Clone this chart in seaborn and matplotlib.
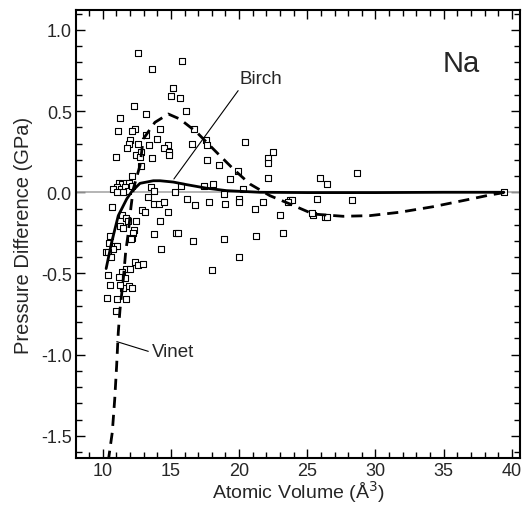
import numpy as np
import pandas as pd
import matplotlib
matplotlib.use("Agg")
import matplotlib.pyplot as plt
from matplotlib.ticker import MultipleLocator
import seaborn as sns

# ---- data ----
vol_pts = [12.55, 15.79, 13.59, 15.17, 14.98, 15.63, 12.31, 16.12, 11.27, 13.17,
           12.40, 12.18, 11.10, 14.20, 16.71, 13.19, 13.98, 12.00, 11.89, 11.78,
           12.62, 13.41, 14.81, 14.49, 14.84, 14.88, 16.52, 17.57, 17.62, 20.42,
           22.51, 22.13, 22.11, 12.44, 12.84, 12.70, 13.59, 10.95, 17.66, 18.52,
           12.77, 19.95, 22.13, 12.18, 19.36, 25.92, 26.45, 28.61,
           11.19, 11.39, 11.71, 11.95, 11.03, 11.34, 11.63, 11.88, 11.47, 10.78,
           12.11, 11.01,
           13.52, 13.78, 15.74, 17.42, 18.10, 15.27, 18.91, 20.30, 13.34, 13.74,
           14.15, 14.49, 16.20, 16.76, 17.79, 19.00, 19.99, 19.99, 21.72, 21.18,
           23.03, 23.74, 23.90, 23.60, 25.68, 28.29, 25.43, 25.38, 26.29, 26.45,
           10.68, 12.86, 13.08, 14.81, 14.20, 11.39, 11.74, 11.88, 11.27, 11.52,
           12.44, 12.31, 12.24, 12.11, 13.76, 15.37, 15.54, 23.22, 21.21, 18.86,
           16.59, 14.27, 10.46, 10.53, 10.90, 11.05, 10.78, 10.21, 10.42, 10.57,
           19.99, 12.07, 12.37, 12.55, 12.97, 11.71, 12.00, 11.41, 18.03, 10.35,
           11.22, 11.61, 10.53, 11.95, 12.15, 11.52, 10.34, 11.07, 11.73, 11.00,
           11.27, 39.42]
dp_pts = [0.86, 0.81, 0.76, 0.64, 0.59, 0.58, 0.53, 0.50, 0.46, 0.48,
          0.39, 0.38, 0.38, 0.39, 0.39, 0.35, 0.33, 0.32, 0.30, 0.27,
          0.30, 0.29, 0.29, 0.27, 0.25, 0.23, 0.30, 0.32, 0.29, 0.31,
          0.25, 0.21, 0.18, 0.23, 0.25, 0.22, 0.21, 0.22, 0.20, 0.17,
          0.16, 0.13, 0.09, 0.10, 0.08, 0.09, 0.05, 0.12,
          0.06, 0.05, 0.06, 0.06, 0.03, 0.02, 0.03, 0.01, 0.00, 0.02,
          0.04, 0.00,
          0.03, 0.01, 0.04, 0.04, 0.05, 0.00, -0.01, 0.02, -0.03, -0.07,
          -0.07, -0.06, -0.04, -0.08, -0.06, -0.07, -0.04, -0.06, -0.06, -0.10,
          -0.14, -0.05, -0.05, -0.06, -0.04, -0.05, -0.14, -0.13, -0.15, -0.15,
          -0.09, -0.11, -0.12, -0.12, -0.18, -0.14, -0.16, -0.18, -0.21, -0.22,
          -0.18, -0.23, -0.25, -0.28, -0.26, -0.25, -0.25, -0.25, -0.27, -0.29,
          -0.30, -0.35, -0.31, -0.27, -0.33, -0.33, -0.35, -0.37, -0.37, -0.40,
          -0.40, -0.29, -0.43, -0.45, -0.44, -0.47, -0.47, -0.49, -0.48, -0.51,
          -0.52, -0.53, -0.57, -0.58, -0.59, -0.59, -0.65, -0.66, -0.66, -0.73,
          -0.57, 0.00]

birch_vol = [10.25, 10.66, 11.14, 11.76, 12.12, 12.73, 13.71, 14.20, 15.17, 16.15,
             17.62, 19.08, 21.52, 25.0, 30.0, 35.0, 39.42]
birch_dp = [-0.47, -0.306, -0.144, -0.041, 0.004, 0.055, 0.071, 0.071, 0.063, 0.047,
            0.025, 0.010, 0.0, -0.002, -0.002, 0.0, 0.0]

vinet_vol = [10.40, 10.70, 10.88, 11.02, 11.14, 11.27, 11.51, 11.68, 11.88, 12.07,
             12.24, 12.73, 12.97, 13.83, 14.81, 15.66, 16.89, 18.35, 19.57, 20.79,
             22.26, 23.72, 25.43, 27.63, 29.58, 31.78, 34.22, 36.67, 38.37, 39.42]
vinet_dp = [-1.66, -1.479, -1.274, -1.068, -0.863, -0.719, -0.534, -0.370, -0.246, -0.092,
            0.020, 0.164, 0.328, 0.431, 0.482, 0.451, 0.370, 0.246, 0.144, 0.051,
            -0.021, -0.072, -0.134, -0.148, -0.144, -0.123, -0.089, -0.047, -0.017, -0.002]

x_ticks = [10, 15, 20, 25, 30, 35, 40]
y_ticks = [-1.5, -1.0, -0.5, 0.0, 0.5, 1.0]

pts = pd.DataFrame({"vol": vol_pts, "dp": dp_pts})
birch = pd.DataFrame({"vol": birch_vol, "dp": birch_dp})
vinet = pd.DataFrame({"vol": vinet_vol, "dp": vinet_dp})

sns.set_style("white")
plt.rcParams["font.family"] = ["Liberation Sans", "DejaVu Sans"]

fig = plt.figure(figsize=(5.22, 5.06), dpi=100)
ax = fig.add_axes([0.1456, 0.0929, 0.8506, 0.8854])

ax.axhline(0, color="#a8a8a8", lw=1.2, zorder=1)

sns.scatterplot(data=pts, x="vol", y="dp", ax=ax, marker="s", s=13,
                facecolor="white", edgecolor="black", linewidth=0.8, zorder=2)
sns.lineplot(data=birch, x="vol", y="dp", ax=ax, sort=False, color="black",
             lw=2.0, zorder=3)
sns.lineplot(data=vinet, x="vol", y="dp", ax=ax, sort=False, color="black",
             lw=2.0, dashes=False, zorder=3).lines[-1].set_dashes([4, 2.5])

ax.set_xlim(8.04, 40.6)
ax.set_ylim(-1.637, 1.123)
ax.set_xticks(x_ticks)
ax.set_yticks(y_ticks)
ax.set_yticklabels([f"{v:.1f}" for v in y_ticks])
ax.xaxis.set_minor_locator(MultipleLocator(1))
ax.yaxis.set_minor_locator(MultipleLocator(0.1))
ax.tick_params(which="both", direction="in", top=True, right=True,
               bottom=True, left=True,
               color="black", width=1.0, labelsize=13, pad=3)
ax.tick_params(which="major", length=6.5)
ax.tick_params(which="minor", length=4)
for sp in ax.spines.values():
    sp.set_linewidth(1.5)
    sp.set_color("black")

ax.set_xlabel("Atomic Volume (Å$^3$)", fontsize=14, labelpad=-1)
ax.set_ylabel("Pressure Difference (GPa)", fontsize=14.5, labelpad=6)

ax.text(36.32, 0.797, "Na", fontsize=21, ha="center", va="center")
ax.text(21.6, 0.702, "Birch", fontsize=13.5, ha="center", va="center")
ax.plot([19.93, 15.22], [0.626, 0.082], color="black", lw=0.8, zorder=4)
ax.text(13.59, -0.978, "Vinet", fontsize=13.5, ha="left", va="center")
ax.plot([11.03, 13.34], [-0.92, -0.98], color="black", lw=0.8, zorder=4)

fig.savefig("out.png", dpi=100)
